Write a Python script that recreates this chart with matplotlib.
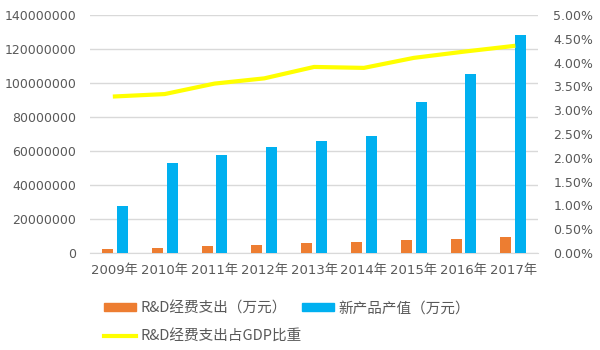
import matplotlib
matplotlib.use("Agg")
import matplotlib.pyplot as plt
import numpy as np
from matplotlib.patches import Patch
from matplotlib.lines import Line2D
from matplotlib.ticker import FuncFormatter, MultipleLocator

plt.rcParams['font.family'] = ['DejaVu Sans', 'Noto Sans CJK SC']

years = ['2009年', '2010年', '2011年', '2012年', '2013年', '2014年', '2015年', '2016年', '2017年']
rd_spend = [2400000, 3100000, 3900000, 4500000, 6000000, 6500000, 7500000, 8200000, 9400000]
new_product = [27600000, 52900000, 57600000, 62400000, 65900000, 68800000, 88800000, 105300000, 128200000]
rd_gdp_ratio = [3.29, 3.34, 3.56, 3.67, 3.91, 3.89, 4.10, 4.23, 4.35]

c_orange = '#ED7D31'
c_blue = '#00B0F0'
c_yellow = '#FFFF00'
c_text = '#595959'

fig = plt.figure(figsize=(6, 3.5), dpi=100)
ax = fig.add_axes([0.15, 0.277, 0.747, 0.68])
x = np.arange(len(years))
w = 0.22
ax.bar(x - 0.15, rd_spend, width=w, color=c_orange, zorder=3)
ax.bar(x + 0.15, new_product, width=w, color=c_blue, zorder=3)
ax.set_xlim(-0.5, len(years) - 0.5)
ax.set_ylim(0, 140000000)
ax.yaxis.set_major_locator(MultipleLocator(20000000))
ax.yaxis.set_major_formatter(FuncFormatter(lambda v, p: f'{int(v)}'))
ax.grid(axis='y', color='#D9D9D9', linewidth=1, zorder=0)
for s in ['top', 'right', 'left']:
    ax.spines[s].set_visible(False)
ax.spines['bottom'].set_color('#D9D9D9')
ax.set_xticks(x)
ax.set_xticklabels(years)
ax.tick_params(axis='y', length=0, labelsize=9, colors=c_text, pad=10)
ax.tick_params(axis='x', length=0, labelsize=9.5, colors=c_text, pad=8)

ax2 = ax.twinx()
ax2.plot(x, rd_gdp_ratio, color=c_yellow, linewidth=3, zorder=4)
ax2.set_ylim(0, 5)
ax2.yaxis.set_major_locator(MultipleLocator(0.5))
ax2.yaxis.set_major_formatter(FuncFormatter(lambda v, p: f'{v:.2f}%'))
for s in ['top', 'right', 'left', 'bottom']:
    ax2.spines[s].set_visible(False)
ax2.tick_params(axis='y', length=0, labelsize=9, colors=c_text, pad=11)

legend_font = {'family': ['Noto Sans CJK SC', 'DejaVu Sans'], 'size': 10.5}
h1 = [Patch(color=c_orange), Patch(color=c_blue)]
fig.legend(h1, ['R&D经费支出（万元）', '新产品产值（万元）'], loc='center left',
           bbox_to_anchor=(0.152, 0.12), ncol=2, frameon=False, prop=legend_font,
           labelcolor=c_text, handlelength=2.2, handleheight=0.55, columnspacing=1.0, handletextpad=0.3)
h2 = [Line2D([0], [0], color=c_yellow, linewidth=3)]
fig.legend(h2, ['R&D经费支出占GDP比重'], loc='center left',
           bbox_to_anchor=(0.152, 0.037), frameon=False, prop=legend_font,
           labelcolor=c_text, handlelength=2.2, handletextpad=0.3)

fig.savefig('out.png', dpi=100)
